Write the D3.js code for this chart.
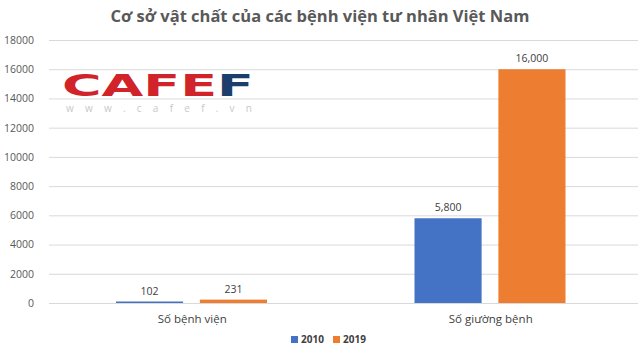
<!DOCTYPE html>
<html><head><meta charset="utf-8">
<script src="https://cdn.jsdelivr.net/npm/d3@7"></script>
<style>body{margin:0;background:#fff}svg{display:block}</style>
</head><body>
<svg id="c" width="640" height="358"></svg>
<script>
const categories = ["Số bệnh viện", "Số giường bệnh"];
const seriesNames = ["2010", "2019"];
const values2010 = [102, 5800];
const values2019 = [231, 16000];
const yTicks = [0, 2000, 4000, 6000, 8000, 10000, 12000, 14000, 16000, 18000];
const colors = ["#4472c4", "#ed7d31"];

const svg = d3.select("#c");
const font = "'Open Sans', 'Noto Sans', sans-serif";
const y = d3.scaleLinear().domain([0, 18000]).range([303, 40]);
const x0 = d3.scaleBand().domain(categories).range([43, 640]);
const x1 = d3.scaleBand().domain(seriesNames).range([73, 224]).paddingInner(0.2).paddingOuter(0);

// title
svg.append("text").attr("x", 320).attr("y", 22).attr("text-anchor", "middle")
  .attr("font-family", font).attr("font-weight", "bold").attr("font-size", 16.5)
  .attr("fill", "#595959").text("Cơ sở vật chất của các bệnh viện tư nhân Việt Nam");

// grid
const yAxis = d3.axisLeft(y).tickValues(yTicks).tickSize(-(640 - 43 - 8)).tickFormat(d3.format("d"));
const ga = svg.append("g").attr("transform", "translate(43,0)").call(yAxis);
ga.select(".domain").remove();
ga.selectAll(".tick line").attr("stroke", "#d9d9d9").attr("transform", "translate(6,0)");
ga.selectAll(".tick text").attr("x", -9).attr("font-family", font).attr("font-size", 10.5).attr("fill", "#595959");

// logo
const logo = svg.append("g");
logo.append("text").attr("x", 62).attr("y", 96).attr("font-family", "'DejaVu Sans', sans-serif")
  .attr("font-weight", "900").attr("font-size", 30).attr("textLength", 192).attr("lengthAdjust", "spacingAndGlyphs")
  .attr("fill", "#d1232a").text("CAFE").append("tspan").attr("fill", "#1d3d6b").text("F");
logo.append("text").attr("x", 66).attr("y", 112).attr("font-family", font).attr("font-size", 10)
  .attr("fill", "#c8c8c8").attr("textLength", 186).text("www.cafef.vn");

// bars
const data = categories.map((c, i) => ({cat: c, vals: [values2010[i], values2019[i]]}));
const groups = svg.append("g").selectAll("g").data(data).join("g")
  .attr("transform", d => `translate(${x0(d.cat)},0)`);
groups.selectAll("rect").data(d => d.vals.map((v, j) => ({s: seriesNames[j], v, j})))
  .join("rect").attr("x", d => x1(d.s)).attr("width", x1.bandwidth())
  .attr("y", d => y(d.v)).attr("height", d => Math.max(y(0) - y(d.v), 0))
  .attr("fill", d => colors[d.j]);
groups.selectAll("text.lbl").data(d => d.vals.map((v, j) => ({s: seriesNames[j], v, j})))
  .join("text").attr("class", "lbl").attr("x", d => x1(d.s) + x1.bandwidth() / 2)
  .attr("y", d => y(d.v) - 7).attr("text-anchor", "middle")
  .attr("font-family", font).attr("font-size", 10.5).attr("fill", "#404040")
  .text(d => d3.format(",")(d.v));

// category labels
svg.append("g").selectAll("text").data(categories).join("text")
  .attr("x", d => x0(d) + x0.bandwidth() / 2).attr("y", 323).attr("text-anchor", "middle")
  .attr("font-family", font).attr("font-size", 11.5).attr("fill", "#404040").text(d => d);

// legend
const lg = svg.append("g").attr("transform", "translate(291,343)");
seriesNames.forEach((s, i) => {
  const g = lg.append("g").attr("transform", `translate(${i * 42},0)`);
  g.append("rect").attr("x", 0).attr("y", -7).attr("width", 7).attr("height", 7).attr("fill", colors[i]);
  g.append("text").attr("x", 10).attr("y", 0).attr("font-family", font).attr("font-weight", "bold")
    .attr("font-size", 10).attr("fill", "#404040").text(s);
});
</script>
</body></html>
